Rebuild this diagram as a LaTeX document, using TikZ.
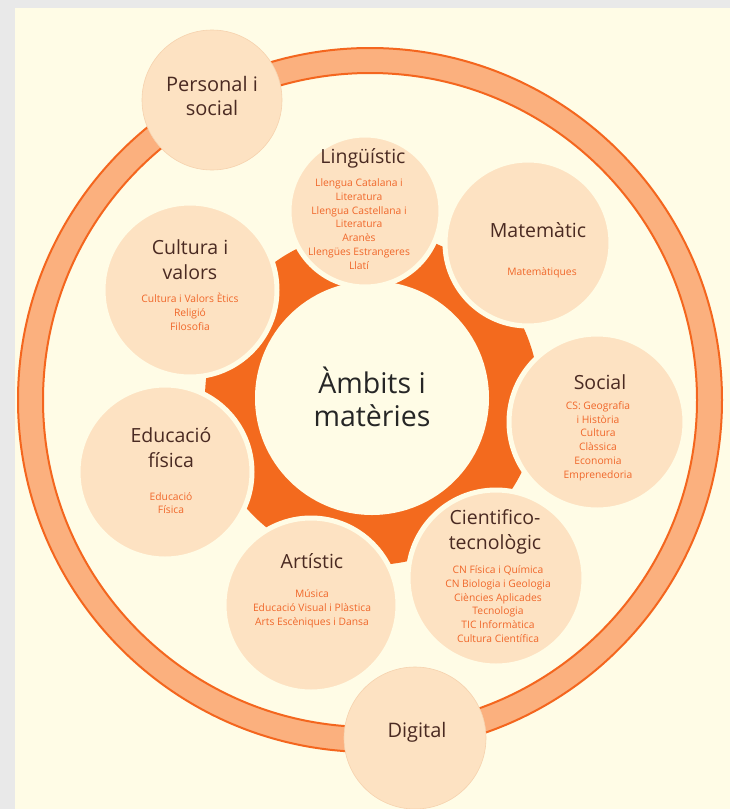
\documentclass[tikz,border=0pt]{standalone}
\usepackage{fontspec}
\setmainfont{Open Sans}
\definecolor{grayback}{HTML}{E9E9E9}
\definecolor{cream}{HTML}{FFFCE6}
\definecolor{peach}{HTML}{FDE2C2}
\definecolor{peachline}{HTML}{F6D2AE}
\definecolor{orng}{HTML}{F36A1E}
\definecolor{ringfill}{HTML}{FBB07E}
\definecolor{ringline}{HTML}{F4661E}
\definecolor{titlecol}{HTML}{4A2A22}
\definecolor{subcol}{HTML}{F0672A}
\tikzset{
  sat/.style={circle, fill=peach, draw=cream, line width=5pt, inner sep=0pt},
  outsat/.style={circle, fill=peach, draw=peachline, line width=0.6pt, inner sep=0pt},
  ttl/.style={text=titlecol, align=center, font=\fontsize{19.5}{25}\selectfont, inner sep=0pt},
  sub/.style={text=subcol, align=center, font=\fontsize{10.3}{13.8}\selectfont, inner sep=0pt}
}
\begin{document}
\begin{tikzpicture}[x=1pt,y=-1pt]
\useasboundingbox (0,0) rectangle (730,809);
\fill[grayback] (0,0) rectangle (730,809);
\fill[cream] (15,8) rectangle (730,809);
% outer ring
\fill[ringfill, even odd rule] (370,400) circle (352pt) (370,400) circle (327pt);
\draw[ringline, line width=2pt] (370,400) circle (352pt);
\draw[ringline, line width=2pt] (370,400) circle (327pt);
% orange star background
\fill[orng] (372,398) circle (167pt);
% centre
\node[circle, fill=cream, minimum size=234pt, inner sep=0pt] (centre) at (372,398) {};
\node[text=black!85, align=center, font=\fontsize{28.5}{33}\selectfont] (centret) at (372,397) {Àmbits i\\matèries};
% satellites
\node[sat, minimum size=152pt] (ling) at (365,211) {};
\node[sat, minimum size=166pt] (mat) at (528,243) {};
\node[sat, minimum size=176pt] (soc) at (597,422) {};
\node[sat, minimum size=176pt] (cien) at (496,578) {};
\node[sat, minimum size=174pt] (art) at (311,605) {};
\node[sat, minimum size=174pt] (edf) at (165,472) {};
\node[sat, minimum size=174pt] (cult) at (190,290) {};
% outer circles
\node[outsat, minimum size=140pt] (pers) at (212,100) {};
\node[outsat, minimum size=142pt] (dig) at (415,738) {};
% texts
\node[ttl, font=\fontsize{20}{24}\selectfont] (perst) at (212,96) {Personal i\\social};
\node[ttl, font=\fontsize{20}{24}\selectfont] (digt) at (417,732) {Digital};
\node[ttl] (lingt) at (363,158) {Lingüístic};
\node[sub] (lings) at (359,224) {Llengua Catalana i\\Literatura\\Llengua Castellana i\\Literatura\\Aranès\\Llengües Estrangeres\\Llatí};
\node[ttl] (matt) at (538,230) {Matemàtic};
\node[sub] (mats) at (542,273) {Matemàtiques};
\node[ttl] (cultt) at (190,260) {Cultura i\\valors};
\node[sub] (cults) at (190,312) {Cultura i Valors Ètics\\Religió\\Filosofia};
\node[ttl] (soct) at (600,382) {Social};
\node[sub] (socs) at (598,441) {CS: Geografia\\i Història\\Cultura\\Clàssica\\Economia\\Emprenedoria};
\node[ttl] (edft) at (171,448) {Educació\\física};
\node[sub] (edfs) at (171,503) {Educació\\Física};
\node[ttl] (artt) at (312,561) {Artístic};
\node[sub] (arts) at (312,609) {Música\\Educació Visual i Plàstica\\Arts Escèniques i Dansa};
\node[ttl] (cient) at (495,532) {Cientifico-\\tecnològic};
\node[sub] (ciens) at (498,604) {CN Física i Química\\CN Biologia i Geologia\\Ciències Aplicades\\Tecnologia\\TIC Informàtica\\Cultura Científica};
\end{tikzpicture}
\end{document}
